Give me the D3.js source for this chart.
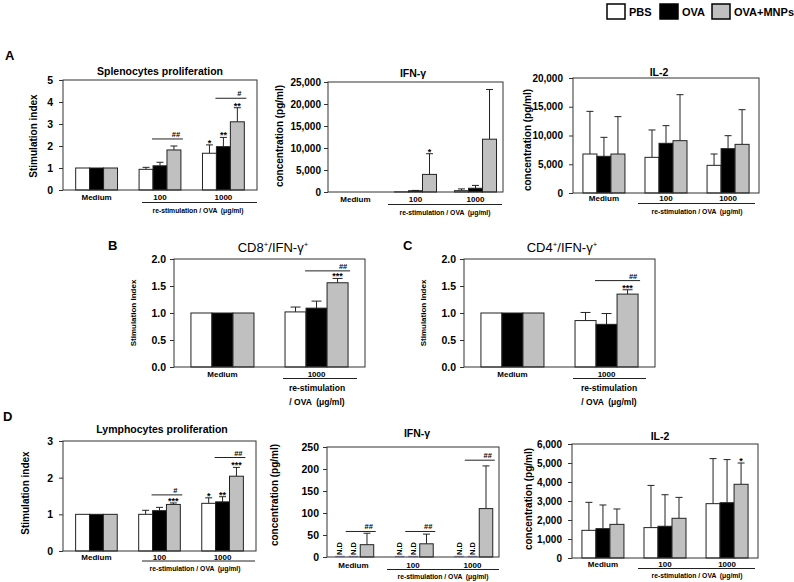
<!DOCTYPE html>
<html><head><meta charset="utf-8">
<script src="https://cdn.jsdelivr.net/npm/d3@7"></script>
<style>
body{margin:0;background:#fff}
text{font-family:"Liberation Sans",Arial,Helvetica,sans-serif;fill:#000}
</style>
</head><body>
<svg id="c" width="794" height="582"></svg>
<script>
// ---------------- DATA ----------------
const seriesNames = ["PBS", "OVA", "OVA+MNPs"];
const seriesFills = ["#ffffff", "#000000", "#c0c0c0"];

const catsThree = ["Medium", "100", "1000"];
const catsTwo = ["Medium", "1000"];

// A: Splenocytes proliferation (stimulation index)
const splenoPBS = [1.0, 0.94, 1.67], splenoPBSsd = [0, 0.09, 0.38];
const splenoOVA = [1.0, 1.10, 1.97], splenoOVAsd = [0, 0.16, 0.42];
const splenoMNP = [1.0, 1.82, 3.10], splenoMNPsd = [0, 0.18, 0.64];

// A: IFN-gamma (pg/ml)
const ifnA_PBS = [0, 30, 300], ifnA_PBSsd = [0, 0, 400];
const ifnA_OVA = [0, 280, 850], ifnA_OVAsd = [0, 80, 650];
const ifnA_MNP = [0, 4000, 12000], ifnA_MNPsd = [0, 4700, 11300];

// A: IL-2 (pg/ml)
const il2A_PBS = [6780, 6200, 4810], il2A_PBSsd = [7420, 4760, 1970];
const il2A_OVA = [6380, 8640, 7710], il2A_OVAsd = [3300, 3070, 2260];
const il2A_MNP = [6780, 9100, 8460], il2A_MNPsd = [6500, 8000, 6030];

// B: CD8+/IFN-g+
const cd8PBS = [1.0, 1.02], cd8PBSsd = [0, 0.09];
const cd8OVA = [1.0, 1.09], cd8OVAsd = [0, 0.13];
const cd8MNP = [1.0, 1.56], cd8MNPsd = [0, 0.08];

// C: CD4+/IFN-g+
const cd4PBS = [1.0, 0.86], cd4PBSsd = [0, 0.15];
const cd4OVA = [1.0, 0.79], cd4OVAsd = [0, 0.20];
const cd4MNP = [1.0, 1.35], cd4MNPsd = [0, 0.08];

// D: Lymphocytes proliferation
const lymphPBS = [1.0, 1.00, 1.30], lymphPBSsd = [0, 0.11, 0.15];
const lymphOVA = [1.0, 1.10, 1.34], lymphOVAsd = [0, 0.09, 0.14];
const lymphMNP = [1.0, 1.27, 2.04], lymphMNPsd = [0, 0.04, 0.24];

// D: IFN-gamma (pg/ml), null = N.D
const ifnD_PBS = [null, null, null], ifnD_PBSsd = [0, 0, 0];
const ifnD_OVA = [null, null, null], ifnD_OVAsd = [0, 0, 0];
const ifnD_MNP = [28, 30, 110], ifnD_MNPsd = [26, 22, 97];

// D: IL-2 (pg/ml)
const il2D_PBS = [1456, 1600, 2860], il2D_PBSsd = [1474, 2220, 2370];
const il2D_OVA = [1544, 1670, 2910], il2D_OVAsd = [1246, 1660, 2270];
const il2D_MNP = [1770, 2090, 3880], il2D_MNPsd = [810, 1100, 1120];

// ---------------- DRAW ----------------
const svg = d3.select("#c");
const FONT = '"Liberation Sans",Arial,Helvetica,sans-serif';

function panel(cfg) {
  const {l, r, t, b} = cfg.frame;
  const g = svg.append("g");
  const x = d3.scaleBand().domain(cfg.cats).range([l, r])
    .paddingInner(cfg.pIn).paddingOuter(cfg.pOut);
  const xs = d3.scaleBand().domain(d3.range(3)).range([0, x.bandwidth()]);
  const y = d3.scaleLinear().domain([0, cfg.yMax]).range([b, t]);
  const bw = xs.bandwidth();
  const cap = cfg.cap || 7;

  // y axis
  const ticks = d3.range(0, cfg.yMax + cfg.yStep / 2, cfg.yStep);
  const ax = g.append("g").attr("transform", `translate(${l},0)`)
    .call(d3.axisLeft(y).tickValues(ticks).tickFormat(cfg.fmt).tickSize(4).tickPadding(cfg.tickPad || 4));
  ax.select(".domain").remove();
  ax.selectAll(".tick line").attr("stroke", "#333");
  ax.selectAll(".tick text").style("font-family", FONT).style("font-weight", "bold")
    .style("font-size", (cfg.tickFont || 10) + "px").attr("fill", "#111");

  // bars + error bars
  const tops = [];
  cfg.series.forEach((s, si) => {
    tops[si] = [];
    cfg.cats.forEach((c, ci) => {
      const bx = x(c) + xs(si);
      const v = s.mean[ci];
      if (v == null) {
        // N.D.
        g.append("line").attr("x1", bx + 2).attr("x2", bx + bw - 2)
          .attr("y1", b - 0.5).attr("y2", b - 0.5).attr("stroke", "#9a98c8").attr("stroke-width", 1.5);
        g.append("text").attr("transform", `translate(${bx + bw / 2 + 2.5},${b - 2}) rotate(-90)`)
          .attr("text-anchor", "start").style("font-size", "7.5px").style("font-weight", "bold").text("N.D");
        tops[si][ci] = b;
        return;
      }
      const sd = s.sd[ci];
      const yt = y(v + sd);
      tops[si][ci] = sd > 0 ? yt : y(v);
      if (sd > 0) {
        g.append("line").attr("x1", bx + bw / 2).attr("x2", bx + bw / 2)
          .attr("y1", y(v)).attr("y2", yt).attr("stroke", "#222").attr("stroke-width", 1);
        g.append("line").attr("x1", bx + bw / 2 - cap / 2).attr("x2", bx + bw / 2 + cap / 2)
          .attr("y1", yt).attr("y2", yt).attr("stroke", "#222").attr("stroke-width", 1);
      }
      g.append("rect").attr("x", bx).attr("y", y(v)).attr("width", bw).attr("height", b - y(v))
        .attr("fill", seriesFills[si]).attr("stroke", "#222").attr("stroke-width", 1);
    });
  });

  // frame
  g.append("rect").attr("x", l).attr("y", t).attr("width", r - l).attr("height", b - t)
    .attr("fill", "none").attr("stroke", "#333").attr("stroke-width", 1);

  // significance stars
  (cfg.stars || []).forEach(st => {
    const c = cfg.cats[st.g];
    const cx = x(c) + xs(st.s) + bw / 2;
    g.append("text").attr("x", cx).attr("y", tops[st.s][st.g] + 1).attr("text-anchor", "middle")
      .style("font-size", "9px").style("font-weight", "bold").text(st.t);
  });
  (cfg.hashes || []).forEach(h => {
    const c = cfg.cats[h.g];
    const x0 = x(c) + xs(1) - 1, x1 = x(c) + xs(2) + bw + 2;
    const yy = y(h.y);
    g.append("line").attr("x1", x0).attr("x2", x1).attr("y1", yy).attr("y2", yy)
      .attr("stroke", "#222").attr("stroke-width", 1);
    g.append("text").attr("x", x1 - 7).attr("y", yy - 2).attr("text-anchor", "middle")
      .style("font-size", "7.5px").style("font-weight", "bold").text(h.t);
  });

  // category labels
  cfg.cats.forEach(c => {
    g.append("text").attr("x", x(c) + x.bandwidth() / 2).attr("y", cfg.catY).attr("text-anchor", "middle")
      .style("font-size", (cfg.catFont || 8) + "px").style("font-weight", "bold").text(c);
  });
  // re-stimulation underline
  g.append("line").attr("x1", cfg.ul[0]).attr("x2", cfg.ul[1]).attr("y1", cfg.ulY).attr("y2", cfg.ulY)
    .attr("stroke", "#222").attr("stroke-width", 1);
  cfg.ulText.forEach((txt, i) => {
    g.append("text").attr("x", cfg.ulTextX).attr("y", cfg.ulTextY[i]).attr("text-anchor", "middle")
      .style("font-size", cfg.ulFont + "px").style("font-weight", "bold").style("white-space", "pre").text(txt);
  });

  // title
  const tt = g.append("text").attr("x", cfg.titleX).attr("y", cfg.titleY).attr("text-anchor", "middle")
    .style("font-size", cfg.titleFont + "px").style("font-weight", cfg.titleBold ? "bold" : "normal");
  cfg.title.forEach(p => {
    if (p.sup) tt.append("tspan").attr("dy", -5).style("font-size", (cfg.titleFont * 0.6) + "px").text(p.s);
    else tt.append("tspan").attr("dy", p.after ? 5 : 0).text(p.s);
  });

  // y label
  g.append("text").attr("transform", `translate(${cfg.ylabX + cfg.ylabFont * 0.36},${cfg.ylabY}) rotate(-90)`)
    .attr("text-anchor", "middle").style("font-size", cfg.ylabFont + "px").style("font-weight", "bold")
    .text(cfg.ylab);
}

const restim = ["re-stimulation / OVA  (\u03bcg/ml)"];
const restim2 = ["re-stimulation", "/ OVA  (\u03bcg/ml)"];
const mk = (m, s) => ({mean: m, sd: s});

// A1
panel({cats: catsThree, frame: {l: 63, r: 257, t: 80, b: 190}, pIn: .34, pOut: .2,
  yMax: 5, yStep: 1, fmt: d3.format("d"), tickFont: 10.5, tickPad: 6,
  series: [mk(splenoPBS, splenoPBSsd), mk(splenoOVA, splenoOVAsd), mk(splenoMNP, splenoMNPsd)],
  stars: [{g: 2, s: 0, t: "*"}, {g: 2, s: 1, t: "**"}, {g: 2, s: 2, t: "**"}],
  hashes: [{g: 1, y: 2.32, t: "##"}, {g: 2, y: 4.17, t: "#"}],
  catY: 200, ul: [142, 257], ulY: 202.5, ulText: restim, ulTextX: 198, ulTextY: [213], ulFont: 6.8,
  title: [{s: "Splenocytes proliferation"}], titleX: 160, titleY: 74.5, titleFont: 10.5, titleBold: true,
  ylab: "Stimulation index", ylabX: 33, ylabY: 136, ylabFont: 10});

// A2
panel({cats: catsThree, frame: {l: 328, r: 503, t: 82, b: 192}, pIn: .3, pOut: .108,
  yMax: 25000, yStep: 5000, fmt: d3.format(","), tickFont: 10, tickPad: 3,
  series: [mk(ifnA_PBS, ifnA_PBSsd), mk(ifnA_OVA, ifnA_OVAsd), mk(ifnA_MNP, ifnA_MNPsd)],
  stars: [{g: 1, s: 2, t: "*"}], hashes: [],
  catY: 202, ul: [388, 502], ulY: 204.5, ulText: restim, ulTextX: 445, ulTextY: [214.5], ulFont: 6.8,
  title: [{s: "IFN-\u03b3"}], titleX: 413, titleY: 76.5, titleFont: 10.5, titleBold: true,
  ylab: "concentration (pg/ml)", ylabX: 279, ylabY: 136, ylabFont: 10});

// A3
panel({cats: catsThree, frame: {l: 573, r: 759, t: 78, b: 193}, pIn: .323, pOut: .16,
  yMax: 20000, yStep: 5000, fmt: d3.format(","), tickFont: 10, tickPad: 6,
  series: [mk(il2A_PBS, il2A_PBSsd), mk(il2A_OVA, il2A_OVAsd), mk(il2A_MNP, il2A_MNPsd)],
  stars: [], hashes: [],
  catY: 201, ul: [638, 755], ulY: 203.5, ulText: restim, ulTextX: 697, ulTextY: [213.5], ulFont: 6.8,
  title: [{s: "IL-2"}], titleX: 659, titleY: 75.5, titleFont: 10.5, titleBold: true,
  ylab: "concentration (pg/ml)", ylabX: 527, ylabY: 140, ylabFont: 10});

// B
panel({cats: catsTwo, frame: {l: 174, r: 365, t: 259, b: 367}, pIn: .33, pOut: .18,
  yMax: 2, yStep: .5, fmt: d3.format(".1f"), tickFont: 10.5, tickPad: 4, cap: 10,
  series: [mk(cd8PBS, cd8PBSsd), mk(cd8OVA, cd8OVAsd), mk(cd8MNP, cd8MNPsd)],
  stars: [{g: 1, s: 2, t: "***"}], hashes: [{g: 1, y: 1.78, t: "##"}],
  catY: 376.5, ul: [283, 357], ulY: 378.5, ulText: restim2, ulTextX: 317, ulTextY: [391, 405], ulFont: 8.5,
  title: [{s: "CD8"}, {s: "+", sup: true}, {s: "/IFN-\u03b3", after: true}, {s: "+", sup: true}],
  titleX: 273, titleY: 251.5, titleFont: 13, titleBold: false,
  ylab: "Stimulation Index", ylabX: 133, ylabY: 313, ylabFont: 8});

// C
panel({cats: catsTwo, frame: {l: 464, r: 655, t: 259, b: 367}, pIn: .33, pOut: .18,
  yMax: 2, yStep: .5, fmt: d3.format(".1f"), tickFont: 10.5, tickPad: 4, cap: 10,
  series: [mk(cd4PBS, cd4PBSsd), mk(cd4OVA, cd4OVAsd), mk(cd4MNP, cd4MNPsd)],
  stars: [{g: 1, s: 2, t: "***"}], hashes: [{g: 1, y: 1.60, t: "##"}],
  catY: 376.5, ul: [573, 646], ulY: 378.5, ulText: restim2, ulTextX: 609, ulTextY: [391, 405], ulFont: 8.5,
  title: [{s: "CD4"}, {s: "+", sup: true}, {s: "/IFN-\u03b3", after: true}, {s: "+", sup: true}],
  titleX: 562, titleY: 251.5, titleFont: 13, titleBold: false,
  ylab: "Stimulation Index", ylabX: 423, ylabY: 313, ylabFont: 8});

// D1
panel({cats: catsThree, frame: {l: 63, r: 256, t: 441, b: 551}, pIn: .34, pOut: .2,
  yMax: 3, yStep: 1, fmt: d3.format("d"), tickFont: 10.5, tickPad: 6,
  series: [mk(lymphPBS, lymphPBSsd), mk(lymphOVA, lymphOVAsd), mk(lymphMNP, lymphMNPsd)],
  stars: [{g: 1, s: 2, t: "***"}, {g: 2, s: 0, t: "*"}, {g: 2, s: 1, t: "**"}, {g: 2, s: 2, t: "***"}],
  hashes: [{g: 1, y: 1.53, t: "#"}, {g: 2, y: 2.55, t: "##"}],
  catY: 559.5, ul: [142, 255], ulY: 561, ulText: restim, ulTextX: 195, ulTextY: [571], ulFont: 6.8,
  title: [{s: "Lymphocytes proliferation"}], titleX: 162, titleY: 433, titleFont: 10.5, titleBold: true,
  ylab: "Stimulation index", ylabX: 25, ylabY: 493, ylabFont: 10});

// D2
panel({cats: catsThree, frame: {l: 327, r: 499, t: 447, b: 557}, pIn: .32, pOut: .105,
  yMax: 250, yStep: 50, fmt: d3.format("d"), tickFont: 10.5, tickPad: 4,
  series: [mk(ifnD_PBS, ifnD_PBSsd), mk(ifnD_OVA, ifnD_OVAsd), mk(ifnD_MNP, ifnD_MNPsd)],
  stars: [], hashes: [{g: 0, y: 58, t: "##"}, {g: 1, y: 58, t: "##"}, {g: 2, y: 220, t: "##"}],
  catY: 568, ul: [387, 499], ulY: 569.5, ulText: restim, ulTextX: 443, ulTextY: [578.5], ulFont: 6.8,
  title: [{s: "IFN-\u03b3"}], titleX: 417, titleY: 436.5, titleFont: 10.5, titleBold: true,
  ylab: "concentration (pg/ml)", ylabX: 274, ylabY: 495, ylabFont: 10});

// D3
panel({cats: catsThree, frame: {l: 572, r: 758, t: 444, b: 558}, pIn: .323, pOut: .16,
  yMax: 6000, yStep: 1000, fmt: d3.format(","), tickFont: 10, tickPad: 6,
  series: [mk(il2D_PBS, il2D_PBSsd), mk(il2D_OVA, il2D_OVAsd), mk(il2D_MNP, il2D_MNPsd)],
  stars: [{g: 2, s: 2, t: "*"}], hashes: [],
  catY: 567, ul: [638, 755], ulY: 568.5, ulText: restim, ulTextX: 697, ulTextY: [578], ulFont: 6.8,
  title: [{s: "IL-2"}], titleX: 660, titleY: 440, titleFont: 10.5, titleBold: true,
  ylab: "concentration (pg/ml)", ylabX: 528, ylabY: 499, ylabFont: 10});

// panel letters
[["A", 5, 60], ["B", 108, 250], ["C", 403, 250], ["D", 3, 421]].forEach(([s, px, py]) => {
  svg.append("text").attr("x", px).attr("y", py).style("font-size", "13px").style("font-weight", "bold").text(s);
});

// legend
const legX = [607, 660, 712], legTX = [629, 682, 734];
seriesNames.forEach((n, i) => {
  svg.append("rect").attr("x", legX[i]).attr("y", 4).attr("width", 18).attr("height", 15)
    .attr("fill", seriesFills[i]).attr("stroke", "#000").attr("stroke-width", 1.5);
  svg.append("text").attr("x", legTX[i]).attr("y", 15.5).style("font-size", "11px")
    .style("font-weight", "bold").text(n);
});
</script>
</body></html>
